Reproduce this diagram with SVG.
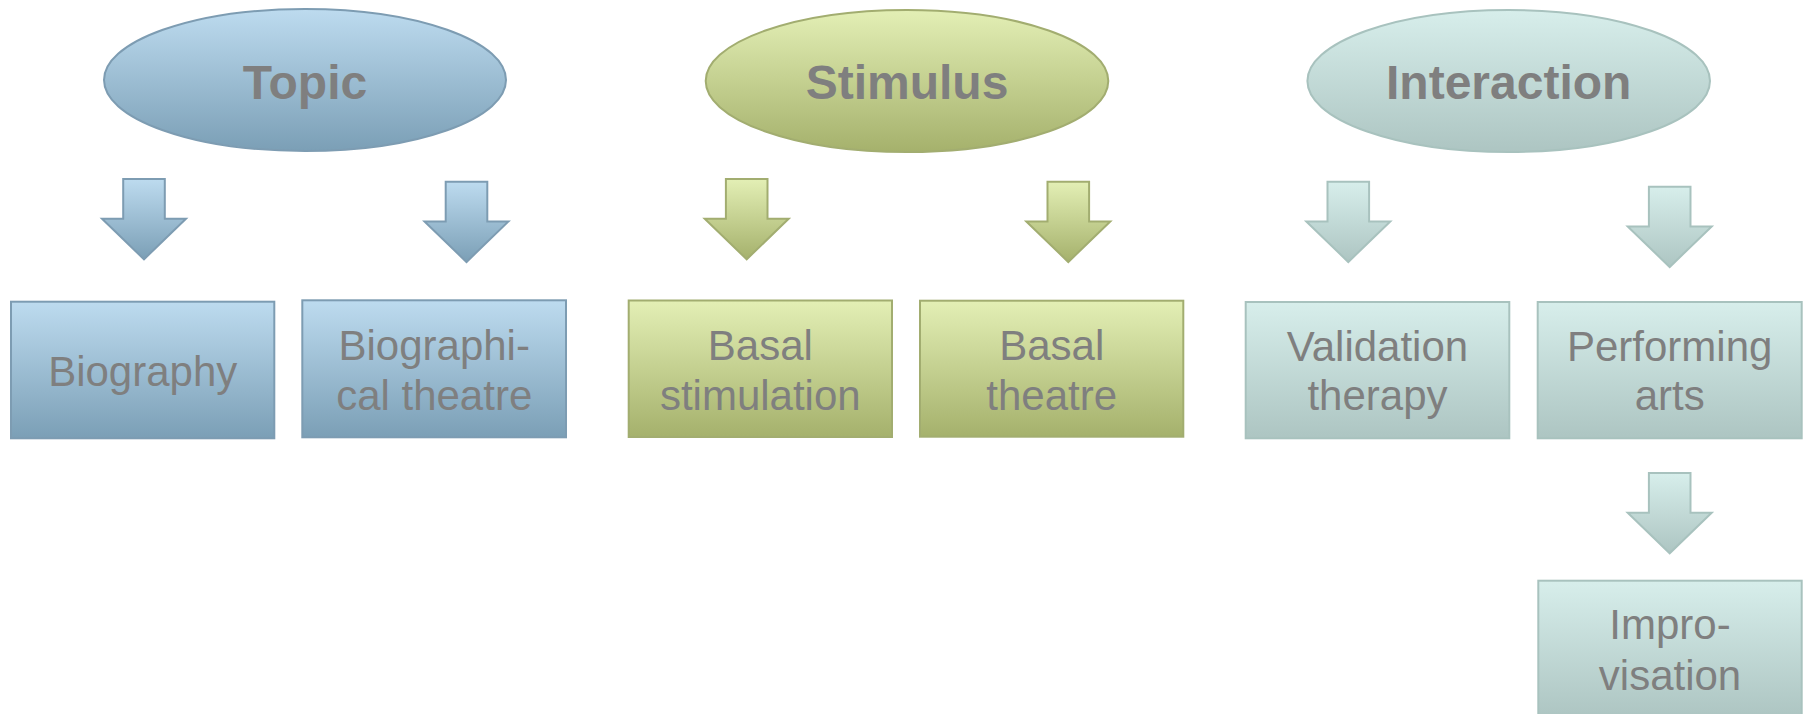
<svg xmlns="http://www.w3.org/2000/svg" width="1804" height="714" viewBox="0 0 1804 714">
<style>
text{font-family:"Liberation Sans",Arial,sans-serif;fill:#7f7f7f;text-anchor:middle}
.h{font-size:48px;font-weight:bold}
.t{font-size:42px}
.b{fill:url(#gb);stroke:#7d9cb2;stroke-width:2}
.g{fill:url(#gg);stroke:#a2ad70;stroke-width:2}
.c{fill:url(#gc);stroke:#a8c2be;stroke-width:2}
</style>
<defs>
<linearGradient id="gb" x1="0" y1="0" x2="0" y2="1"><stop offset="0" stop-color="#bddbef"/><stop offset="1" stop-color="#7b9fb6"/></linearGradient>
<linearGradient id="gg" x1="0" y1="0" x2="0" y2="1"><stop offset="0" stop-color="#e3efb5"/><stop offset="1" stop-color="#a5b16c"/></linearGradient>
<linearGradient id="gc" x1="0" y1="0" x2="0" y2="1"><stop offset="0" stop-color="#d7eeeb"/><stop offset="1" stop-color="#adc5c2"/></linearGradient>
<path id="arr" d="M-20.8,0H20.8V39.7H42L0,80.3L-42,39.7H-20.8Z"/>
</defs>
<g id="connectors">
<use href="#arr" class="b" transform="translate(144,179)"/>
<use href="#arr" class="b" transform="translate(466.5,181.7)"/>
<use href="#arr" class="g" transform="translate(746.7,179)"/>
<use href="#arr" class="g" transform="translate(1068.3,181.7)"/>
<use href="#arr" class="c" transform="translate(1348.3,181.7)"/>
<use href="#arr" class="c" transform="translate(1669.7,186.7)"/>
<use href="#arr" class="c" transform="translate(1669.7,473)"/>
</g>
<g id="topic"><ellipse class="b" cx="305" cy="80" rx="201" ry="71"/><text class="h" x="305" y="98.5">Topic</text></g>
<g id="stimulus"><ellipse class="g" cx="907" cy="81" rx="201.3" ry="71"/><text class="h" x="907" y="98.5">Stimulus</text></g>
<g id="interaction"><ellipse class="c" cx="1508.7" cy="81" rx="201.3" ry="71"/><text class="h" x="1508.7" y="98.5">Interaction</text></g>
<g id="biography"><rect class="b" x="11" y="301.7" width="263.3" height="136.6"/><text class="t" x="142.7" y="386">Biography</text></g>
<g id="biographical-theatre"><rect class="b" x="302.3" y="300.3" width="263.7" height="137"/><text class="t" x="434.2" y="360">Biographi-</text><text class="t" x="434.2" y="410">cal theatre</text></g>
<g id="basal-stimulation"><rect class="g" x="628.7" y="300.5" width="263.3" height="136.5"/><text class="t" x="760.3" y="360">Basal</text><text class="t" x="760.3" y="410">stimulation</text></g>
<g id="basal-theatre"><rect class="g" x="920" y="300.7" width="263.3" height="136"/><text class="t" x="1051.7" y="360">Basal</text><text class="t" x="1051.7" y="410">theatre</text></g>
<g id="validation-therapy"><rect class="c" x="1245.7" y="302" width="263.6" height="136.3"/><text class="t" x="1377.5" y="361">Validation</text><text class="t" x="1377.5" y="410">therapy</text></g>
<g id="performing-arts"><rect class="c" x="1537.7" y="302" width="264" height="136.3"/><text class="t" x="1669.7" y="361">Performing</text><text class="t" x="1669.7" y="410">arts</text></g>
<g id="improvisation"><rect class="c" x="1538.3" y="580.7" width="263.4" height="137"/><text class="t" x="1670" y="639">Impro-</text><text class="t" x="1670" y="690">visation</text></g>
</svg>
